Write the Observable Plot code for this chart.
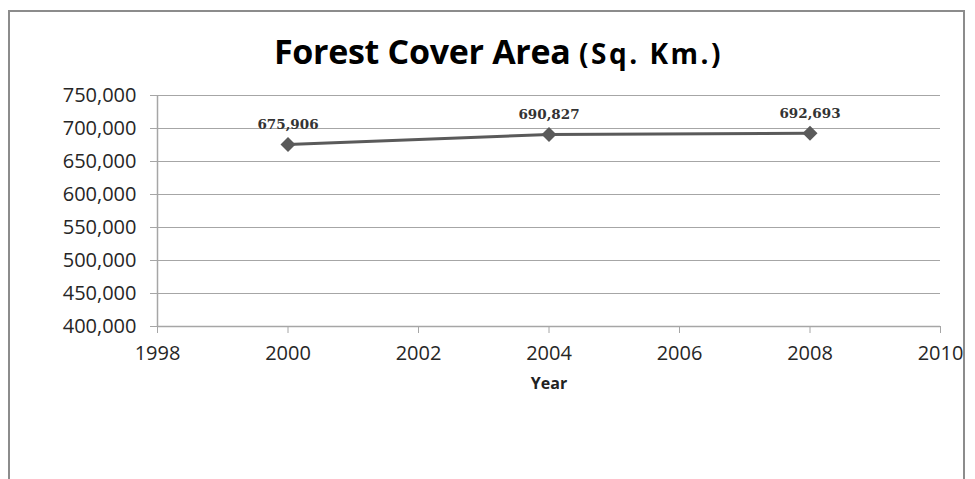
<!DOCTYPE html>
<html>
<head>
<meta charset="utf-8">
<script src="https://cdn.jsdelivr.net/npm/d3@7"></script>
<script src="https://cdn.jsdelivr.net/npm/@observablehq/plot@0.6"></script>
<style>
  html, body { margin: 0; padding: 0; background: #fff; width: 975px; height: 479px; overflow: hidden; }
  #box { position: absolute; left: 8px; top: 10px; width: 953px; height: 480px; border: 2px solid #8c8c8c; border-bottom: none; }
  #title { position: absolute; left: 0; top: 0; width: 975px; height: 75px; text-align: center; box-sizing: border-box; padding-left: 22px; padding-top: 32px;
           font-family: "Open Sans", sans-serif; font-weight: bold; font-size: 34px; line-height: 38px; color: #000; letter-spacing: -0.3px; white-space: nowrap; }
  #title .small { font-size: 28px; letter-spacing: 2.5px; }
  #chart { position: absolute; left: 0; top: 75px; z-index: 2; }
</style>
</head>
<body>
<div id="box"></div>
<div id="title">Forest Cover Area <span class="small">(Sq. Km.)</span></div>
<div id="chart"></div>
<script>
const years = [2000, 2004, 2008];
const forestCover = [675906, 690827, 692693];
const xTicks = [1998, 2000, 2002, 2004, 2006, 2008, 2010];
const yTicks = [400000, 450000, 500000, 550000, 600000, 650000, 700000, 750000];
const xLabel = "Year";

const data = years.map((y, i) => ({year: y, value: forestCover[i]}));

const chart = Plot.plot({
  width: 975,
  height: 404,
  marginLeft: 157,
  marginRight: 35,
  marginTop: 20,
  marginBottom: 153,
  style: {fontFamily: "Open Sans, sans-serif", fontSize: "20px", color: "#333", background: "transparent", overflow: "visible"},
  x: {domain: [1998, 2010], ticks: xTicks, tickFormat: d => String(d), label: null, tickSize: 7, tickPadding: 12},
  y: {domain: [400000, 750000], ticks: yTicks, tickFormat: d3.format(","), label: null, tickSize: 7, tickPadding: 14},
  marks: [
    Plot.gridY(yTicks, {stroke: "#a6a6a6", strokeOpacity: 1, strokeWidth: 1}),
    Plot.ruleX([1998], {stroke: "#a6a6a6", strokeWidth: 1.5}),
    Plot.ruleY([400000], {stroke: "#a6a6a6", strokeWidth: 1.5}),
    Plot.axisX({ticks: xTicks, tickFormat: d => String(d), stroke: "#a6a6a6", fill: "#262626", tickSize: 7, tickPadding: 12}),
    Plot.axisY({ticks: yTicks, tickFormat: d3.format(","), stroke: "#a6a6a6", fill: "#262626", tickSize: 7, tickPadding: 14}),
    Plot.line(data, {x: "year", y: "value", stroke: "#5a5a5a", strokeWidth: 3}),
    Plot.dot(data, {x: "year", y: "value", symbol: "square", rotate: 45, r: 6, fill: "#5a5a5a", stroke: "none"}),
    Plot.text(data, {x: "year", y: "value", text: d => d3.format(",")(d.value), dy: -20,
      fontFamily: "DejaVu Serif, serif", fontWeight: "bold", fontSize: 13.5, fill: "#333"}),
    Plot.text([xLabel], {frameAnchor: "bottom", dy: 57, lineAnchor: "middle", fontWeight: "bold", fontSize: 16, fill: "#222"})
  ]
});
document.getElementById("chart").appendChild(chart);
</script>
</body>
</html>
